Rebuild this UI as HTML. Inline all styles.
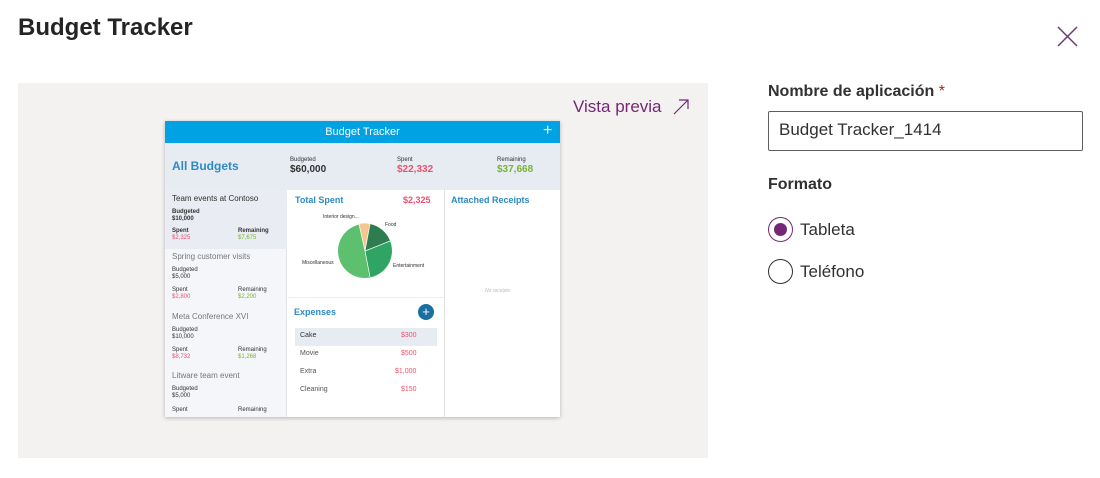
<!DOCTYPE html>
<html><head><meta charset="utf-8"><style>
*{margin:0;padding:0;box-sizing:border-box}
body{width:1100px;height:478px;background:#fff;font-family:"Liberation Sans",sans-serif;position:relative;overflow:hidden;color:#323130}
.a{position:absolute;white-space:nowrap}
.s{font-size:6px;color:#333}
.r{color:#f0506e}.g{color:#78b434}
.t9{font-size:9px;color:#555}
</style></head><body>
<div class="a" style="left:18px;top:14px;font-size:24px;font-weight:bold;color:#252423">Budget Tracker</div>
<svg class="a" style="left:1057px;top:26px" width="21" height="21"><path d="M1 1L20 20M20 1L1 20" stroke="#6b3a6e" stroke-width="1.5"/></svg>
<div class="a" style="left:18px;top:83px;width:690px;height:375px;background:#f3f2f1"></div>
<div class="a" style="left:573px;top:97px;font-size:17px;color:#742774">Vista previa</div>
<svg class="a" style="left:672px;top:98px" width="18" height="18"><path d="M2 16L16 2M7 2H16V11" stroke="#742774" stroke-width="1.2" fill="none"/></svg>
<div class="a" style="left:165px;top:121px;width:395px;height:296px;background:#fff;box-shadow:0 1px 4px rgba(0,0,0,.25);overflow:hidden">
 <div class="a" style="left:0;top:0;width:395px;height:22px;background:#00a2e4;color:#fff;font-size:11px;text-align:center;line-height:22px">Budget Tracker</div>
 <div class="a" style="left:378px;top:1px;color:#fff;font-size:16px">+</div>
 <div class="a" style="left:0;top:22px;width:395px;height:47px;background:#e7ebf2"></div>
 <div class="a" style="left:7px;top:38px;font-size:12px;font-weight:bold;color:#2f8ac4">All Budgets</div>
 <div class="a s" style="left:125px;top:36px">Budgeted</div><div class="a" style="left:125px;top:43px;font-size:10px;font-weight:bold">$60,000</div>
 <div class="a s" style="left:232px;top:36px">Spent</div><div class="a r" style="left:232px;top:43px;font-size:10px;font-weight:bold">$22,332</div>
 <div class="a s" style="left:332px;top:36px">Remaining</div><div class="a g" style="left:332px;top:43px;font-size:10px;font-weight:bold">$37,668</div>
 <div class="a" style="left:0;top:69px;width:122px;height:227px;background:#f4f6fa;border-right:1px solid #e3e3e3"></div>
 <div class="a" style="left:0;top:69px;width:122px;height:59px;background:#e9ecf2"></div>
 <div class="a" style="left:7px;top:73px;font-size:8px">Team events at Contoso</div>
 <div class="a s" style="left:7px;top:88px;font-weight:bold">Budgeted</div><div class="a s" style="left:7px;top:95px;font-weight:bold">$10,000</div>
 <div class="a s" style="left:7px;top:107px;font-weight:bold">Spent</div><div class="a s r" style="left:7px;top:114px">$2,325</div>
 <div class="a s" style="left:73px;top:107px;font-weight:bold">Remaining</div><div class="a s g" style="left:73px;top:114px">$7,675</div>
 <div class="a" style="left:7px;top:131px;font-size:8px;color:#777">Spring customer visits</div>
 <div class="a s" style="left:7px;top:146px">Budgeted</div><div class="a s" style="left:7px;top:153px">$5,000</div>
 <div class="a s" style="left:7px;top:166px">Spent</div><div class="a s r" style="left:7px;top:173px">$2,800</div>
 <div class="a s" style="left:73px;top:166px">Remaining</div><div class="a s g" style="left:73px;top:173px">$2,200</div>
 <div class="a" style="left:7px;top:191px;font-size:8px;color:#777">Meta Conference XVI</div>
 <div class="a s" style="left:7px;top:206px">Budgeted</div><div class="a s" style="left:7px;top:213px">$10,000</div>
 <div class="a s" style="left:7px;top:226px">Spent</div><div class="a s r" style="left:7px;top:233px">$8,732</div>
 <div class="a s" style="left:73px;top:226px">Remaining</div><div class="a s g" style="left:73px;top:233px">$1,268</div>
 <div class="a" style="left:7px;top:250px;font-size:8px;color:#777">Litware team event</div>
 <div class="a s" style="left:7px;top:265px">Budgeted</div><div class="a s" style="left:7px;top:272px">$5,000</div>
 <div class="a s" style="left:7px;top:286px">Spent</div><div class="a s" style="left:73px;top:286px">Remaining</div>
 <div class="a" style="left:130px;top:74px;font-size:9px;font-weight:bold;color:#2f8ac4">Total Spent</div>
 <div class="a r" style="left:238px;top:74px;font-size:9px;font-weight:bold">$2,325</div>
 <svg class="a" style="left:170px;top:100px" width="60" height="60"><circle cx="30" cy="30" r="27" fill="#5cc06e"/><path d="M30 30L24 3A27 27 0 0 1 35 3Z" fill="#f5c690"/><path d="M30 30L35 3A27 27 0 0 1 55 20Z" fill="#2e7d50"/><path d="M30 30L55 20A27 27 0 0 1 35 56Z" fill="#30a464"/><path d="M30 30L35 3M30 30L55 20M30 30L35 56M30 30L24 3" stroke="#fff" stroke-width=".7"/></svg>
 <div class="a" style="left:158px;top:93px;font-size:5px">Interior design...</div>
 <div class="a" style="left:220px;top:101px;font-size:5px">Food</div>
 <div class="a" style="left:137px;top:139px;font-size:5px">Miscellaneous</div>
 <div class="a" style="left:228px;top:142px;font-size:5px">Entertainment</div>
 <div class="a" style="left:123px;top:176px;width:156px;height:1px;background:#eee"></div>
 <div class="a" style="left:279px;top:69px;width:1px;height:227px;background:#e3e3e3"></div>
 <div class="a" style="left:129px;top:186px;font-size:9px;font-weight:bold;color:#2f8ac4">Expenses</div>
 <div class="a" style="left:253px;top:183px;width:16px;height:16px;border-radius:50%;background:#1a6fa0;color:#fff;font-size:13px;text-align:center;line-height:15px">+</div>
 <div class="a" style="left:130px;top:207px;width:142px;height:18px;background:#e7ebf2"></div>
 <div class="a t9" style="left:135px;top:211px;font-size:7px;color:#333">Cake</div><div class="a r" style="left:236px;top:211px;font-size:7px">$300</div>
 <div class="a t9" style="left:135px;top:229px;font-size:7px">Movie</div><div class="a r" style="left:236px;top:229px;font-size:7px">$500</div>
 <div class="a t9" style="left:135px;top:247px;font-size:7px">Extra</div><div class="a r" style="left:230px;top:247px;font-size:7px">$1,000</div>
 <div class="a t9" style="left:135px;top:265px;font-size:7px">Cleaning</div><div class="a r" style="left:236px;top:265px;font-size:7px">$150</div>
 <div class="a" style="left:286px;top:74px;font-size:9px;font-weight:bold;color:#2f8ac4">Attached Receipts</div>
 <div class="a" style="left:320px;top:167px;font-size:5px;color:#bbb;font-style:italic">No receipts</div>
</div>
<div class="a" style="left:768px;top:83px;font-size:16px;font-weight:bold;color:#323130">Nombre de aplicación <span style="color:#a4262c;font-weight:normal">*</span></div>
<div class="a" style="left:768px;top:111px;width:315px;height:40px;border:1px solid #605e5c;border-radius:2px;font-size:17px;padding:8px 10px">Budget Tracker_1414</div>
<div class="a" style="left:768px;top:176px;font-size:16px;font-weight:bold">Formato</div>
<div class="a" style="left:768px;top:217px;width:25px;height:25px;border-radius:50%;border:1px solid #742774"><div style="margin:5px;width:13px;height:13px;border-radius:50%;background:#742774"></div></div>
<div class="a" style="left:800px;top:220px;font-size:17px">Tableta</div>
<div class="a" style="left:768px;top:259px;width:25px;height:25px;border-radius:50%;border:1px solid #323130"></div>
<div class="a" style="left:800px;top:262px;font-size:17px">Teléfono</div>
</body></html>
